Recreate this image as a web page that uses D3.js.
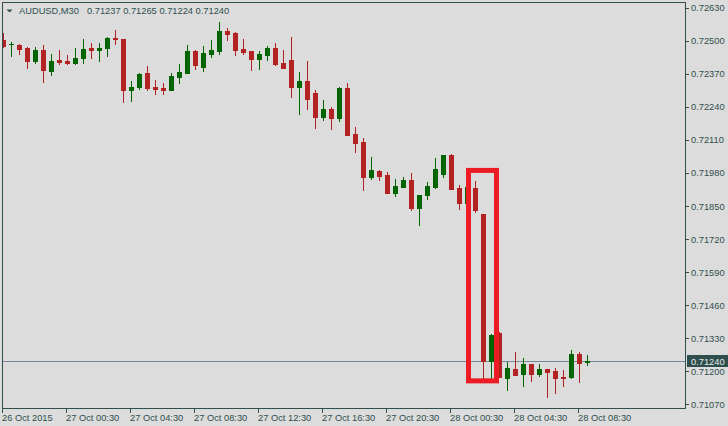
<!DOCTYPE html>
<html>
<head>
<meta charset="utf-8">
<script src="https://cdnjs.cloudflare.com/ajax/libs/d3/7.8.5/d3.min.js"></script>
<style>
    body { margin: 0; background: #dcdcdc; }
    #chart-area { width: 728px; height: 426px; }
    .axis-label { font-family: "Liberation Sans", Arial, sans-serif; font-size: 9.3px; fill: #2f4f4f; }
    .title-label { font-family: "Liberation Sans", Arial, sans-serif; font-size: 9.3px; fill: #2f4f4f; }
</style>
</head>
<body>
<div id="chart-area"></div>
<script>

// AUDUSD M30 bars, first bar 26 Oct 2015 20:30
var symbol = "AUDUSD,M30";

var opens = [0.72504, 0.72487, 0.72486, 0.72474, 0.72422, 0.72465, 0.72382, 0.72425, 0.72422, 0.72412,
    0.72432, 0.72471, 0.72465, 0.72474, 0.72512, 0.72508, 0.72307, 0.72320, 0.72374, 0.72318,
    0.72314, 0.72307, 0.72360, 0.72375, 0.72461, 0.72399, 0.72449, 0.72461, 0.72540, 0.72533,
    0.72469, 0.72461, 0.72429, 0.72445, 0.72473, 0.72414, 0.72425, 0.72319, 0.72343, 0.72296,
    0.72201, 0.72233, 0.72197, 0.72315, 0.72134, 0.72103, 0.71965, 0.71989, 0.71973, 0.71902,
    0.71926, 0.71953, 0.71843, 0.71894, 0.71926, 0.71977, 0.72052, 0.71922, 0.71863, 0.71922,
    0.71819, 0.71242, 0.71350, 0.71176, 0.71210, 0.71191, 0.71230, 0.71191, 0.71210, 0.71202,
    0.71180, 0.71179, 0.71270, 0.71237];

var highs = [0.72530, 0.72495, 0.72488, 0.72478, 0.72478, 0.72484, 0.72449, 0.72465, 0.72445, 0.72471,
    0.72507, 0.72493, 0.72493, 0.72517, 0.72543, 0.72509, 0.72343, 0.72375, 0.72402, 0.72347,
    0.72336, 0.72373, 0.72410, 0.72484, 0.72464, 0.72480, 0.72504, 0.72575, 0.72551, 0.72536,
    0.72507, 0.72462, 0.72461, 0.72480, 0.72492, 0.72465, 0.72516, 0.72378, 0.72422, 0.72307,
    0.72268, 0.72241, 0.72319, 0.72335, 0.72162, 0.72119, 0.72044, 0.71993, 0.71985, 0.71957,
    0.71965, 0.71981, 0.71895, 0.71946, 0.72040, 0.72052, 0.72056, 0.71934, 0.71926, 0.71949,
    0.71820, 0.71347, 0.71355, 0.71237, 0.71277, 0.71253, 0.71231, 0.71231, 0.71211, 0.71215,
    0.71206, 0.71285, 0.71277, 0.71265];

var lows = [0.72475, 0.72442, 0.72450, 0.72395, 0.72415, 0.72340, 0.72366, 0.72409, 0.72411, 0.72410,
    0.72415, 0.72434, 0.72423, 0.72441, 0.72487, 0.72261, 0.72265, 0.72310, 0.72307, 0.72290,
    0.72292, 0.72306, 0.72334, 0.72374, 0.72391, 0.72382, 0.72438, 0.72449, 0.72506, 0.72445,
    0.72449, 0.72386, 0.72390, 0.72425, 0.72406, 0.72393, 0.72280, 0.72213, 0.72233, 0.72158,
    0.72189, 0.72154, 0.72185, 0.72129, 0.72063, 0.71914, 0.71957, 0.71953, 0.71901, 0.71890,
    0.71925, 0.71835, 0.71776, 0.71879, 0.71922, 0.71965, 0.71917, 0.71839, 0.71855, 0.71827,
    0.71169, 0.71170, 0.71177, 0.71127, 0.71186, 0.71144, 0.71164, 0.71183, 0.71101, 0.71117,
    0.71144, 0.71176, 0.71160, 0.71224];

var closes = [0.72480, 0.72490, 0.72470, 0.72422, 0.72465, 0.72386, 0.72422, 0.72418, 0.72412, 0.72432,
    0.72469, 0.72465, 0.72471, 0.72513, 0.72508, 0.72307, 0.72318, 0.72370, 0.72314, 0.72311,
    0.72307, 0.72362, 0.72379, 0.72461, 0.72405, 0.72454, 0.72465, 0.72540, 0.72529, 0.72465,
    0.72457, 0.72429, 0.72449, 0.72473, 0.72410, 0.72394, 0.72319, 0.72343, 0.72272, 0.72201,
    0.72233, 0.72197, 0.72315, 0.72130, 0.72099, 0.71965, 0.71993, 0.71969, 0.71902, 0.71930,
    0.71953, 0.71843, 0.71894, 0.71930, 0.71997, 0.72051, 0.71918, 0.71863, 0.71925, 0.71835,
    0.71242, 0.71345, 0.71177, 0.71214, 0.71187, 0.71230, 0.71191, 0.71210, 0.71199, 0.71176,
    0.71176, 0.71270, 0.71235, 0.71240];

var priceTicks = [0.72630, 0.72500, 0.72370, 0.72240, 0.72110, 0.71980, 0.71850,
    0.71720, 0.71590, 0.71460, 0.71330, 0.71200, 0.71070];

var timeTickBars = [0, 8, 16, 24, 32, 40, 48, 56, 64, 72];
var timeTickLabels = ["26 Oct 2015", "27 Oct 00:30", "27 Oct 04:30", "27 Oct 08:30", "27 Oct 12:30",
    "27 Oct 16:30", "27 Oct 20:30", "28 Oct 00:30", "28 Oct 04:30", "28 Oct 08:30"];

var bidPrice = 0.71240;

// red box drawn around the drop (bar range, price range)
var highlightBars = [58.125, 61.625];
var highlightPrices = [0.71991, 0.71163];


CandleChart = function(_parentElement, _data){
    this.parentElement = _parentElement;
    this.data = _data;
    this.initVis();
};

CandleChart.prototype.initVis = function(){
    var vis = this;

    vis.width = 728;
    vis.height = 426;
    vis.plot = { left: 2.5, top: 2.5, right: 685.5, bottom: 408.5 };

    vis.svg = d3.select("#" + vis.parentElement).append("svg")
        .attr("width", vis.width)
        .attr("height", vis.height);

    vis.svg.append("rect")
        .attr("width", vis.width)
        .attr("height", vis.height)
        .attr("fill", "#dcdcdc");

    // one bar every 8px
    vis.x = d3.scaleLinear()
        .domain([0, 73])
        .range([3.5, 3.5 + 73 * 8]);

    vis.y = d3.scaleLinear()
        .domain([0.71070, 0.72630])
        .range([404.5, 8]);

    vis.svg.append("clipPath")
        .attr("id", "plot-clip")
        .append("rect")
        .attr("x", vis.plot.left + 0.5)
        .attr("y", vis.plot.top + 0.5)
        .attr("width", vis.plot.right - vis.plot.left - 1)
        .attr("height", vis.plot.bottom - vis.plot.top - 1);

    vis.plotArea = vis.svg.append("g").attr("clip-path", "url(#plot-clip)");

    // frame
    vis.svg.append("path")
        .attr("d", "M" + vis.plot.left + "," + vis.plot.bottom +
            "V" + vis.plot.top + "H" + vis.plot.right + "V" + vis.plot.bottom + "Z")
        .attr("fill", "none")
        .attr("stroke", "#2f4f4f")
        .attr("stroke-width", 1)
        .attr("shape-rendering", "crispEdges");

    // price axis
    var priceAxis = vis.svg.selectAll(".price-tick")
        .data(priceTicks)
        .enter().append("g")
        .attr("class", "price-tick")
        .attr("transform", function(d) { return "translate(0," + vis.y(d) + ")"; });
    priceAxis.append("line")
        .attr("x1", vis.plot.right)
        .attr("x2", vis.plot.right + 3)
        .attr("stroke", "#2f4f4f")
        .attr("shape-rendering", "crispEdges");
    priceAxis.append("text")
        .attr("class", "axis-label")
        .attr("x", 691)
        .attr("dy", ".35em")
        .text(function(d) { return d3.format(".5f")(d); });

    // time axis
    var timeAxis = vis.svg.selectAll(".time-tick")
        .data(timeTickBars)
        .enter().append("g")
        .attr("class", "time-tick")
        .attr("transform", function(d) { return "translate(" + (Math.floor(vis.x(d)) - 0.5) + ",0)"; });
    timeAxis.append("line")
        .attr("y1", vis.plot.bottom)
        .attr("y2", vis.plot.bottom + 4)
        .attr("stroke", "#2f4f4f")
        .attr("shape-rendering", "crispEdges");
    timeAxis.append("text")
        .attr("class", "axis-label")
        .attr("x", -0.5)
        .attr("y", 420.5)
        .text(function(d, i) { return timeTickLabels[i]; });

    // title
    vis.svg.append("path")
        .attr("d", "M6.5,9.5 L12.5,9.5 L9.5,12.5 Z")
        .attr("fill", "#2f4f4f");
    vis.svg.append("text")
        .attr("class", "title-label")
        .attr("x", 19)
        .attr("y", 14)
        .text(symbol);

    vis.wrangleData();
};

CandleChart.prototype.wrangleData = function() {
    var vis = this;

    vis.displayData = vis.data.opens.map(function(o, i) {
        return { id: i, open: o, high: vis.data.highs[i], low: vis.data.lows[i], close: vis.data.closes[i] };
    });

    vis.last = vis.displayData[vis.displayData.length - 1];

    vis.updateVis();
};

CandleChart.prototype.updateVis = function(){
    var vis = this;

    vis.svg.append("text")
        .attr("class", "title-label")
        .attr("x", 87)
        .attr("y", 14)
        .text([vis.last.open, vis.last.high, vis.last.low, vis.last.close]
            .map(d3.format(".5f")).join(" "));

    // bid line
    var yBid = Math.round(vis.y(bidPrice)) + 0.5;
    vis.plotArea.append("line")
        .attr("x1", vis.plot.left)
        .attr("x2", vis.plot.right)
        .attr("y1", yBid)
        .attr("y2", yBid)
        .attr("stroke", "#778899")
        .attr("shape-rendering", "crispEdges");

    var candles = vis.plotArea.selectAll(".candle")
        .data(vis.displayData)
        .enter().append("g")
        .attr("class", "candle")
        .attr("fill", function(d) { return d.close >= d.open ? "#006400" : "#b22222"; })
        .attr("stroke", function(d) { return d.close >= d.open ? "#006400" : "#b22222"; });

    candles.append("line")
        .attr("x1", function(d) { return vis.x(d.id); })
        .attr("x2", function(d) { return vis.x(d.id); })
        .attr("y1", function(d) { return Math.round(vis.y(d.high)); })
        .attr("y2", function(d) { return Math.round(vis.y(d.low)) + 1; })
        .attr("stroke-width", 1)
        .attr("shape-rendering", "crispEdges");

    candles.append("rect")
        .attr("x", function(d) { return vis.x(d.id) - 2.5; })
        .attr("width", 5)
        .attr("y", function(d) { return Math.round(vis.y(Math.max(d.open, d.close))); })
        .attr("height", function(d) {
            var h = Math.round(vis.y(Math.min(d.open, d.close))) - Math.round(vis.y(Math.max(d.open, d.close)));
            return Math.max(1, h + 1);
        })
        .attr("stroke", "none")
        .attr("shape-rendering", "crispEdges");

    // highlight box
    var hx0 = vis.x(highlightBars[0]), hx1 = vis.x(highlightBars[1]);
    var hy0 = vis.y(highlightPrices[0]), hy1 = vis.y(highlightPrices[1]);
    vis.plotArea.append("rect")
        .attr("x", hx0)
        .attr("y", hy0)
        .attr("width", hx1 - hx0)
        .attr("height", hy1 - hy0)
        .attr("fill", "none")
        .attr("stroke", "#ed1c24")
        .attr("stroke-width", 5);

    // bid label
    vis.svg.append("rect")
        .attr("x", 687)
        .attr("y", yBid - 6.5)
        .attr("width", 41)
        .attr("height", 12)
        .attr("fill", "#2f4f4f");
    vis.svg.append("text")
        .attr("class", "axis-label")
        .attr("x", 691)
        .attr("y", yBid)
        .attr("dy", ".35em")
        .style("fill", "#e8e8e8")
        .text(d3.format(".5f")(bidPrice));
};

var chart = new CandleChart("chart-area", { opens: opens, highs: highs, lows: lows, closes: closes });

</script>
</body>
</html>
